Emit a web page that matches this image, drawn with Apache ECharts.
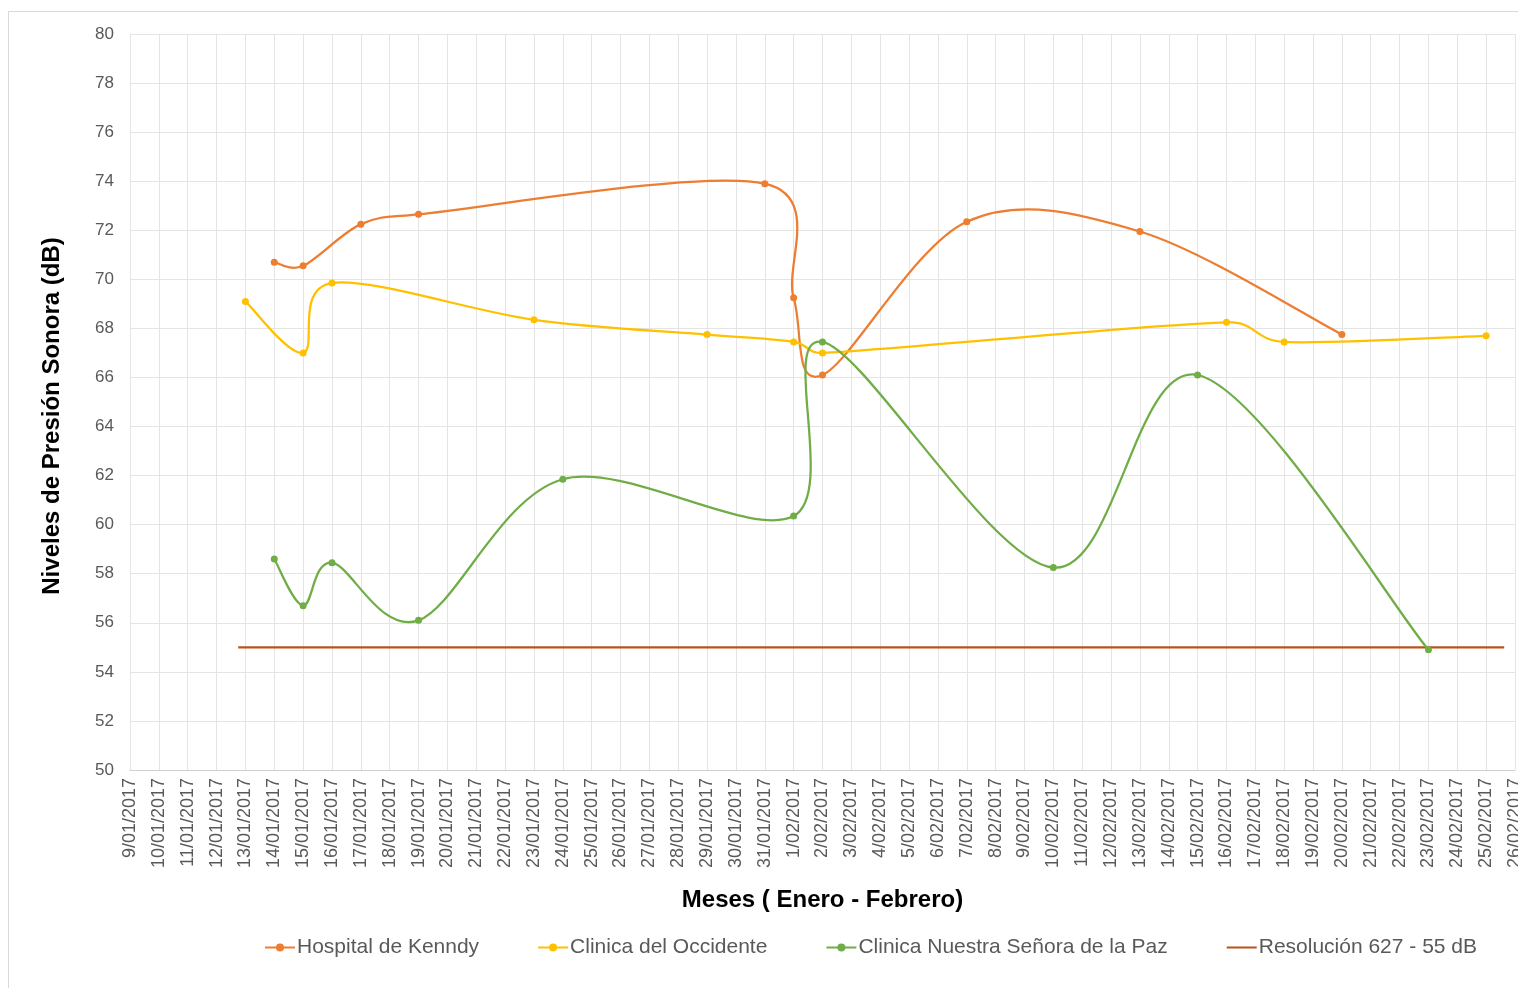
<!DOCTYPE html>
<html>
<head>
<meta charset="utf-8">
<script src="https://cdn.jsdelivr.net/npm/echarts@6/dist/echarts.min.js"></script>
<style>
  html, body { margin: 0; padding: 0; background: #ffffff; overflow: hidden; }
  #chart { width: 1518px; height: 988px; }
</style>
</head>
<body>
<div id="chart"></div>
<script>
// First and last day shown on the date axis
const axisStart = '9/01/2017';
const axisEnd = '26/02/2017';

// Hospital de Kenndy
const kennedyDates = ['14/01/2017', '15/01/2017', '17/01/2017', '19/01/2017', '31/01/2017',
  '1/02/2017', '2/02/2017', '7/02/2017', '13/02/2017', '20/02/2017'];
const kennedyValues = [70.7, 70.55, 72.25, 72.65, 73.9, 69.25, 66.1, 72.35, 71.95, 67.75];

// Clinica del Occidente
const occidenteDates = ['13/01/2017', '15/01/2017', '16/01/2017', '23/01/2017', '29/01/2017',
  '1/02/2017', '2/02/2017', '16/02/2017', '18/02/2017', '25/02/2017'];
const occidenteValues = [69.1, 67.0, 69.85, 68.35, 67.75, 67.45, 67.0, 68.25, 67.45, 67.7];

// Clinica Nuestra Señora de la Paz
const pazDates = ['14/01/2017', '15/01/2017', '16/01/2017', '19/01/2017', '24/01/2017',
  '1/02/2017', '2/02/2017', '10/02/2017', '15/02/2017', '23/02/2017'];
const pazValues = [58.6, 56.7, 58.45, 56.1, 61.85, 60.35, 67.45, 58.25, 66.1, 54.9];

// Resolución 627 limit line
const resolucionDates = ['12/01/2017 18:00', '25/02/2017 15:00'];
const resolucionValues = [55, 55];

const seriesNames = ['Hospital de Kenndy', 'Clinica del Occidente',
  'Clinica Nuestra Señora de la Paz', 'Resolución 627 - 55 dB'];
const seriesColors = ['#ED7D31', '#FFC000', '#70AD47', '#B8531A'];

const DAY = 86400000;
function parseDate(s) {
  const [datePart, timePart] = s.split(' ');
  const [d, m, y] = datePart.split('/').map(Number);
  let t = Date.UTC(y, m - 1, d);
  if (timePart) {
    const [hh, mm] = timePart.split(':').map(Number);
    t += (hh * 60 + mm) * 60000;
  }
  return t;
}
const t0 = parseDate(axisStart);
const dayIndex = s => (parseDate(s) - t0) / DAY;
function formatDay(v) {
  const dt = new Date(t0 + Math.round(v) * DAY);
  const m = String(dt.getUTCMonth() + 1).padStart(2, '0');
  return dt.getUTCDate() + '/' + m + '/' + dt.getUTCFullYear();
}
const pairs = (dates, values) => dates.map((d, i) => [dayIndex(d), values[i]]);

const font = '"Liberation Sans", Arial, sans-serif';

// Spreadsheet-style smoothed line: cubic Bezier segments whose handles follow
// the neighbouring points (1/6 rule), shortened to half the segment length
// when the neighbours are far away.
function smoothSegments(pts) {
  const dist = (a, b) => Math.hypot(b[0] - a[0], b[1] - a[1]);
  const segs = [];
  for (let i = 0; i < pts.length - 1; i++) {
    const p0 = pts[Math.max(i - 1, 0)];
    const p1 = pts[i];
    const p2 = pts[i + 1];
    const p3 = pts[Math.min(i + 2, pts.length - 1)];
    const d02 = dist(p0, p2), d12 = dist(p1, p2), d13 = dist(p1, p3);
    const f1 = (d02 / 6 < d12 / 2) ? 1 / 6 : (d02 > 0 ? d12 / (2 * d02) : 0);
    const f2 = (d13 / 6 < d12 / 2) ? 1 / 6 : (d13 > 0 ? d12 / (2 * d13) : 0);
    segs.push({
      x1: p1[0], y1: p1[1], x2: p2[0], y2: p2[1],
      cpx1: p1[0] + (p2[0] - p0[0]) * f1, cpy1: p1[1] + (p2[1] - p0[1]) * f1,
      cpx2: p2[0] - (p3[0] - p1[0]) * f2, cpy2: p2[1] - (p3[1] - p1[1]) * f2
    });
  }
  return segs;
}

// Markers and legend entry for one measured series
function pointSeries(i, data) {
  return {
    name: seriesNames[i],
    type: 'line',
    data: data,
    symbol: 'circle',
    symbolSize: 7,
    lineStyle: { width: 2.25, color: seriesColors[i], opacity: 0 },
    itemStyle: { color: seriesColors[i] },
    emphasis: { disabled: true },
    z: 6 + i
  };
}

// Smoothed curve through the same data, placed with the axis scales
function curveSeries(i, data) {
  return {
    name: seriesNames[i],
    type: 'custom',
    data: data,
    silent: true,
    z: 3 + i,
    renderItem: function (params, api) {
      if (params.dataIndex !== 0) return null;
      const pts = data.map(p => api.coord(p));
      return {
        type: 'group',
        children: smoothSegments(pts).map(s => ({
          type: 'bezierCurve',
          shape: s,
          style: { stroke: seriesColors[i], lineWidth: 2.25, fill: null, lineCap: 'round' }
        }))
      };
    }
  };
}

const kennedyData = pairs(kennedyDates, kennedyValues);
const occidenteData = pairs(occidenteDates, occidenteValues);
const pazData = pairs(pazDates, pazValues);

const chart = echarts.init(document.getElementById('chart'), null, { renderer: 'canvas' });
chart.setOption({
  animation: false,
  backgroundColor: '#ffffff',
  color: seriesColors,
  textStyle: { fontFamily: font },
  graphic: [{
    type: 'rect',
    shape: { x: 8.5, y: 11.5, width: 1530, height: 1000 },
    style: { fill: null, stroke: '#D9D9D9', lineWidth: 1 },
    silent: true, z: -10
  }],
  grid: { left: 130, right: 3, top: 34, bottom: 218, containLabel: false, outerBoundsMode: 'none' },
  legend: {
    left: 259,
    top: 932,
    itemWidth: 30,
    itemHeight: 10,
    itemGap: 58,
    textStyle: { fontFamily: font, fontSize: 21, color: '#595959', padding: [0, 0, 0, -3] },
    data: [
      { name: seriesNames[0], lineStyle: { opacity: 1, width: 2 } },
      { name: seriesNames[1], lineStyle: { opacity: 1, width: 2 } },
      { name: seriesNames[2], lineStyle: { opacity: 1, width: 2 } },
      { name: seriesNames[3], itemStyle: { opacity: 0 }, lineStyle: { width: 2 } }
    ]
  },
  xAxis: {
    type: 'value',
    min: dayIndex(axisStart),
    max: dayIndex(axisEnd),
    interval: 1,
    name: 'Meses ( Enero - Febrero)',
    nameLocation: 'middle',
    nameGap: 118,
    nameTextStyle: { fontFamily: font, fontSize: 24, fontWeight: 'bold', color: '#000000' },
    axisLine: { show: true, lineStyle: { color: '#D0D0D0', width: 1 } },
    axisTick: { show: false },
    axisLabel: {
      rotate: 90,
      margin: 8,
      fontSize: 18,
      color: '#595959',
      fontFamily: font,
      formatter: formatDay,
      showMaxLabel: true,
      showMinLabel: true
    },
    splitLine: { show: true, lineStyle: { color: '#E4E4E4', width: 1 } }
  },
  yAxis: {
    type: 'value',
    min: 50,
    max: 80,
    interval: 2,
    name: 'Niveles de Presión Sonora (dB)',
    nameLocation: 'middle',
    nameGap: 66,
    nameTextStyle: { fontFamily: font, fontSize: 24, fontWeight: 'bold', color: '#000000', padding: [0, 0, 0, -28] },
    axisLine: { show: true, lineStyle: { color: '#E4E4E4', width: 1 } },
    axisTick: { show: false },
    axisLabel: { fontSize: 17, color: '#595959', fontFamily: font, margin: 16 },
    splitLine: { show: true, lineStyle: { color: '#E4E4E4', width: 1 } }
  },
  series: [
    pointSeries(0, kennedyData),
    pointSeries(1, occidenteData),
    pointSeries(2, pazData),
    {
      name: seriesNames[3],
      type: 'line',
      data: pairs(resolucionDates, resolucionValues),
      symbol: 'none',
      lineStyle: { width: 2.25, color: seriesColors[3] },
      itemStyle: { color: seriesColors[3] },
      emphasis: { disabled: true },
      z: 2
    },
    curveSeries(0, kennedyData),
    curveSeries(1, occidenteData),
    curveSeries(2, pazData)
  ]
});
</script>
</body>
</html>
